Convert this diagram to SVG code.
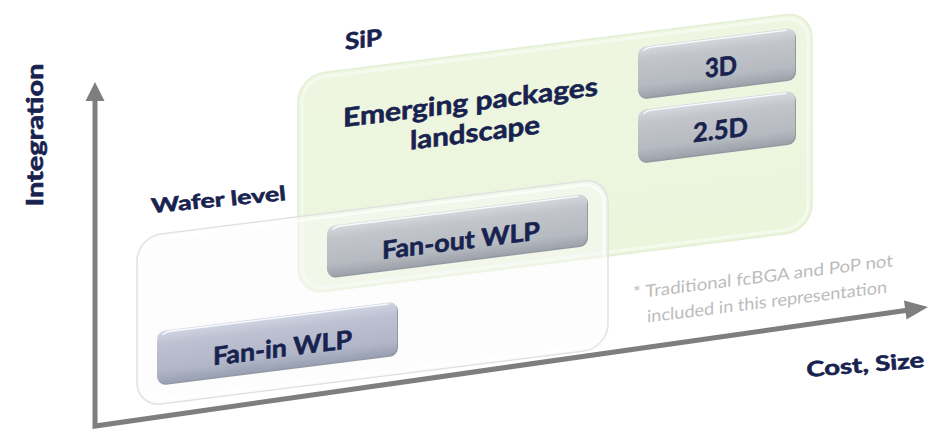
<svg xmlns="http://www.w3.org/2000/svg" width="944" height="429" viewBox="0 0 944 429">
  <defs>
    <linearGradient id="btnGrad" x1="0" y1="0" x2="0" y2="1">
      <stop offset="0" stop-color="#d6d9dd"/>
      <stop offset="0.25" stop-color="#c2c6cb"/>
      <stop offset="0.75" stop-color="#b6bac1"/>
      <stop offset="1" stop-color="#9ea3ab"/>
    </linearGradient>
    <linearGradient id="btnGradBlue" x1="0" y1="0" x2="0" y2="1">
      <stop offset="0" stop-color="#d2d5e2"/>
      <stop offset="0.25" stop-color="#bdc1d2"/>
      <stop offset="0.75" stop-color="#b1b6c8"/>
      <stop offset="1" stop-color="#9aa0b3"/>
    </linearGradient>
    <linearGradient id="sipGrad" x1="0" y1="0" x2="0" y2="1">
      <stop offset="0" stop-color="#eef6e1"/>
      <stop offset="1" stop-color="#ebf5dc"/>
    </linearGradient>
  </defs>
  <style>
    .lbl { font-family: Lato, "Open Sans", "Liberation Sans", sans-serif; font-weight: 700; fill: #18224f; stroke: #18224f; stroke-width: 0.6; }
    .note { font-family: Lato, "Open Sans", "Liberation Sans", sans-serif; font-weight: 400; fill: #bcbcbc; font-size: 17px; }
    .btn-shadow { fill: #9299a2; }
    .btn-hi { fill: none; stroke: #ffffff; stroke-opacity: 0.85; stroke-width: 1.6; stroke-linecap: round; }
    .axis { stroke: #7e7e7e; stroke-width: 5; fill: none; }
    .axis-head { fill: #7e7e7e; }
  </style>

  <rect width="944" height="429" fill="#ffffff"/>

  <!-- tilted plane holding the regions and package blocks -->
  <g transform="matrix(1 -0.125 0 1 0 0)">

    <g id="sip-region">
      <rect x="298" y="113" width="514" height="219" rx="26" fill="url(#sipGrad)" stroke="#e4eed3" stroke-width="1.5"/>
      <rect x="302" y="117" width="506" height="211" rx="23" fill="none" stroke="#f5faee" stroke-width="3"/>
      <text class="lbl" x="345" y="93" font-size="23" textLength="37" lengthAdjust="spacingAndGlyphs">SiP</text>
      <text class="lbl" x="343" y="170" font-size="26" textLength="255" lengthAdjust="spacingAndGlyphs">Emerging packages</text>
      <text class="lbl" x="410" y="201" font-size="26" textLength="130" lengthAdjust="spacingAndGlyphs">landscape</text>
    </g>

    <g id="wafer-level-region">
      <rect x="137" y="254" width="471" height="170" rx="24" fill="#fafafa" fill-opacity="0.45" stroke="#e2e2e2" stroke-width="1.5"/>
      <rect x="141" y="258" width="463" height="162" rx="21" fill="none" stroke="#ffffff" stroke-opacity="0.7" stroke-width="2.5"/>
    </g>

    <g id="node-3d">
      <rect class="btn-shadow" x="639" y="128.5" width="157" height="51" rx="8"/>
      <rect x="638" y="127" width="157" height="51" rx="8" fill="url(#btnGrad)"/>
      <path class="btn-hi" d="M644 131 Q646 128.5 652 128.5 L786 128.5"/>
      <text class="lbl" x="705" y="166" font-size="26" textLength="32" lengthAdjust="spacingAndGlyphs">3D</text>
    </g>

    <g id="node-2-5d">
      <rect class="btn-shadow" x="639" y="191.5" width="157" height="52" rx="8"/>
      <rect x="638" y="190" width="157" height="52" rx="8" fill="url(#btnGrad)"/>
      <path class="btn-hi" d="M644 194 Q646 191.5 652 191.5 L786 191.5"/>
      <text class="lbl" x="693" y="229" font-size="26" textLength="55" lengthAdjust="spacingAndGlyphs">2.5D</text>
    </g>

    <g id="node-fan-out-wlp">
      <rect class="btn-shadow" x="328" y="268.5" width="260" height="51" rx="8"/>
      <rect x="327" y="267" width="260" height="51" rx="8" fill="url(#btnGrad)"/>
      <path class="btn-hi" d="M333 271 Q335 268.5 341 268.5 L578 268.5"/>
      <text class="lbl" x="382" y="307" font-size="25" textLength="158" lengthAdjust="spacingAndGlyphs">Fan-out WLP</text>
    </g>

    <g id="node-fan-in-wlp">
      <rect class="btn-shadow" x="158" y="352.5" width="240" height="53" rx="8"/>
      <rect x="157" y="351" width="240" height="53" rx="8" fill="url(#btnGradBlue)"/>
      <path class="btn-hi" d="M163 355 Q165 352.5 171 352.5 L388 352.5"/>
      <text class="lbl" x="213" y="392" font-size="25" textLength="139" lengthAdjust="spacingAndGlyphs">Fan-in WLP</text>
    </g>

    <g id="footnote">
      <text class="note" x="633" y="378" textLength="260" lengthAdjust="spacingAndGlyphs">* Traditional fcBGA and PoP not</text>
      <text class="note" x="647" y="403.5" textLength="240" lengthAdjust="spacingAndGlyphs">included in this representation</text>
    </g>
  </g>

  <text class="lbl" x="152" y="213" font-size="20" textLength="135" lengthAdjust="spacingAndGlyphs" transform="rotate(-5.5 152 213)">Wafer level</text>

  <!-- axes -->
  <g id="axes">
    <path class="axis" d="M95 99 L95 426 L909 310"/>
    <polygon class="axis-head" points="95,82 104.5,101 85.5,101"/>
    <polygon class="axis-head" points="928,307 906.5,319.5 904,300.5"/>
  </g>

  <g id="axis-labels">
    <text class="lbl" font-size="22" text-anchor="middle" textLength="143" lengthAdjust="spacingAndGlyphs" transform="translate(43 135) rotate(-90)">Integration</text>
    <text class="lbl" x="807" y="377" font-size="21" textLength="118" lengthAdjust="spacingAndGlyphs" transform="rotate(-4.8 807 377)">Cost, Size</text>
  </g>
</svg>
